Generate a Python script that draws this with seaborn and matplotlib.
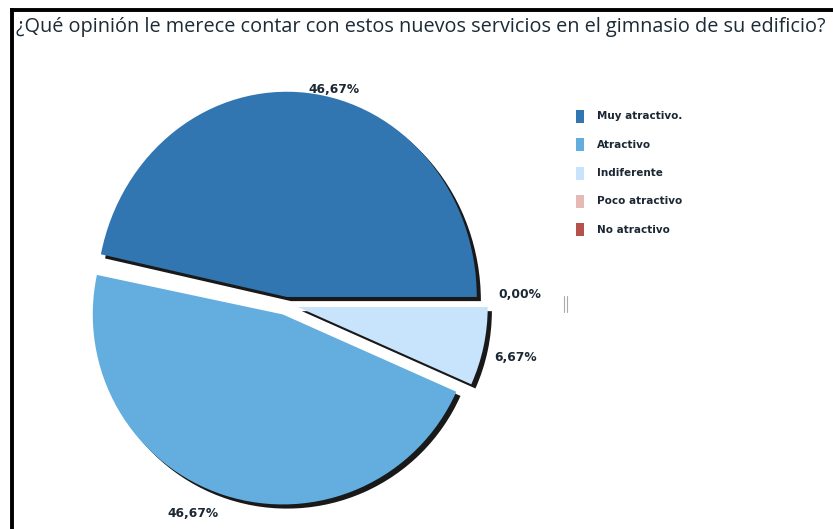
import matplotlib
matplotlib.use("Agg")
import matplotlib.pyplot as plt
import matplotlib.patheffects as pe
import matplotlib.transforms as mtransforms
from matplotlib.patches import Rectangle
from matplotlib.lines import Line2D
import seaborn as sns

# Survey answers and their shares (%)
categories = ["Muy atractivo.", "Atractivo", "Indiferente", "Poco atractivo", "No atractivo"]
shares = [46.67, 46.67, 6.67, 0.0, 0.0]
colors = ["#3276b1", "#63aedf", "#c8e4fc", "#e6b9b4", "#b5524e"]
title = "¿Qué opinión le merece contar con estos nuevos servicios en el gimnasio de su edificio?"

sns.set_theme(style="white")
plt.rcParams["font.family"] = ["DejaVu Sans"]
palette = sns.color_palette(colors)
text_color = "#1b2733"

W, H = 833, 529
fig = plt.figure(figsize=(W / 100, H / 100), dpi=100)
fig.patch.set_facecolor("white")

# pie geometry in pixels
cx, cy, r = 286, 304.5, 190
lim = 1.4
side = 2 * lim * r
ax = fig.add_axes([(cx - side / 2) / W, (H - cy - side / 2) / H, side / W, side / H])

labels = [f"{v:.2f}".replace(".", ",") + "%" for v in shares]
wedges, texts = ax.pie(
    shares, colors=palette, startangle=0, counterclock=True,
    explode=[0.037, 0.055, 0.063, 0.0, 0.0], labels=labels,
    labeldistance=1.1, radius=1,
    textprops=dict(fontsize=8.8, fontweight="bold", color=text_color),
    wedgeprops=dict(linewidth=0),
)
ax.set_aspect("equal")
ax.set_xlim(-lim, lim)
ax.set_ylim(-lim, lim)
ax.axis("off")

# the leading slice is drawn a little taller
wedges[0].set_transform(mtransforms.Affine2D().scale(1, 1.08) + ax.transData)

for w, v in zip(wedges, shares):
    if v == 0:
        w.set_visible(False)
        continue
    w.set_path_effects([
        pe.SimplePatchShadow(offset=(3, -3), shadow_rgbFace="black", alpha=0.9),
        pe.Normal(),
    ])

# keep the small right-hand labels apart
nudges = {2: (-8, -7), 3: (3, 10)}
for i, (dx, dy) in nudges.items():
    texts[i].set_transform(mtransforms.offset_copy(texts[i].get_transform(), fig=fig,
                                                   x=dx, y=dy, units="dots"))
texts[4].set_visible(False)  # same place as the other empty answer

# legend swatches and names
leg_x, leg_y0, leg_dy = 576, 116, 28.5
for i, (name, c) in enumerate(zip(categories, palette)):
    yc = leg_y0 + i * leg_dy
    fig.add_artist(Rectangle((leg_x / W, 1 - (yc + 6.5) / H), 8 / W, 13 / H,
                             transform=fig.transFigure, facecolor=c, edgecolor="none"))
    fig.text(597 / W, 1 - yc / H, name, ha="left", va="center", fontsize=7.5,
             fontweight="bold", color=text_color)

# title, fitted to the available width
t = fig.text(16 / W, 1 - 27 / H, title, ha="left", va="center",
             fontsize=12, color="#1c2b36", family=["Open Sans", "DejaVu Sans"])
for _ in range(2):
    fig.canvas.draw()
    bb = t.get_window_extent()
    t.set_fontsize(t.get_fontsize() * (808 / bb.width))

# frame lines on top and left
fig.add_artist(Line2D([10 / W, 1], [1 - 9.5 / H, 1 - 9.5 / H], color="black", lw=2.8,
                      transform=fig.transFigure, solid_capstyle="butt"))
fig.add_artist(Line2D([11.5 / W, 11.5 / W], [0, 1 - 8 / H], color="black", lw=2.8,
                      transform=fig.transFigure, solid_capstyle="butt"))

# small resize grip
for gx in (563.5, 566.5):
    fig.add_artist(Line2D([gx / W, gx / W], [1 - 296 / H, 1 - 312 / H], color="#aaaaaa",
                          lw=0.8, transform=fig.transFigure))

fig.savefig("out.png", dpi=100)
